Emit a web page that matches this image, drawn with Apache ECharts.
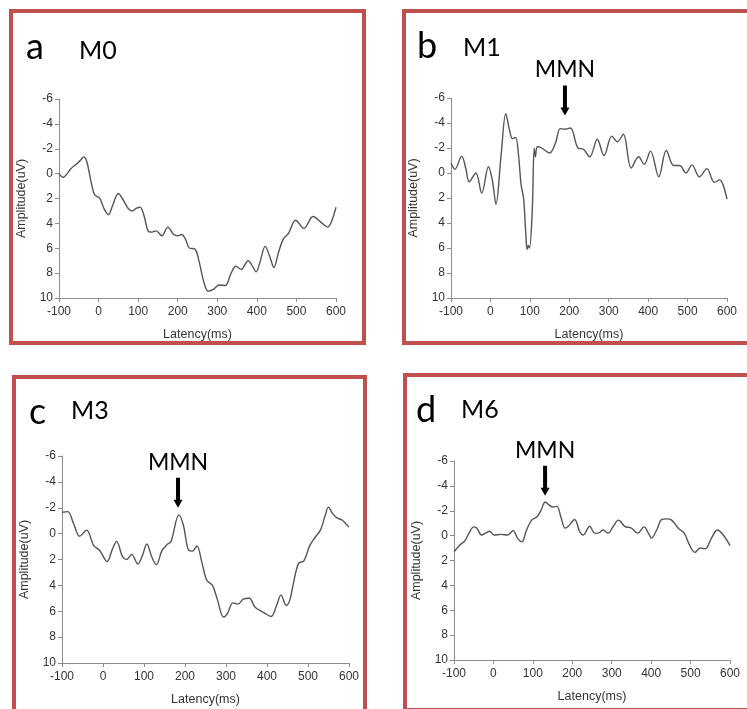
<!DOCTYPE html>
<html><head><meta charset="utf-8">
<script src="https://cdn.jsdelivr.net/npm/echarts@6/dist/echarts.min.js"></script>
<style>html,body{margin:0;padding:0;background:#fff}#c{width:747px;height:709px}</style>
</head><body><div id="c"></div>
<script>
// Panel titles
const panelLetters = ['a', 'b', 'c', 'd'];
const panelNames = ['M0', 'M1', 'M3', 'M6'];
// Axis ticks
const xTicks = { min: -100, max: 600, interval: 100 };
const yTicks = { min: -6, max: 10, interval: 2 };
// [latency ms, amplitude uV]
const M0 = [[-100,0.0],[-90,0.3],[-70,-0.4],[-55,-0.8],[-45,-1.1],[-38,-1.35],[-30,-1.0],[-20,0.5],[-10,1.7],[0,1.9],[5,2.1],[15,2.9],[25,3.3],[35,2.6],[50,1.6],[60,2.0],[75,2.8],[85,3.0],[95,2.8],[105,2.7],[115,3.4],[125,4.6],[135,4.7],[145,4.6],[160,5.0],[175,4.3],[190,4.9],[200,5.0],[210,4.9],[220,5.3],[230,6.0],[243,6.05],[255,7.2],[265,8.6],[277,9.45],[290,9.3],[305,8.95],[320,9.0],[335,8.0],[347,7.45],[360,7.7],[378,7.0],[390,7.5],[398,7.9],[408,7.1],[421,5.85],[433,6.7],[443,7.55],[455,6.3],[467,5.25],[480,4.8],[498,3.75],[519,4.4],[542,3.45],[565,4.0],[579,4.3],[588,3.9],[600,2.7]];
const M1 = [[-100,-0.8],[-90,-0.3],[-73,-1.35],[-62,-0.3],[-54,0.7],[-37,0.0],[-22,1.6],[-5,-0.5],[5,0.6],[14,2.5],[27,-1.4],[39,-4.75],[48,-3.5],[56,-2.75],[64,-2.85],[71,-1.5],[78,1.0],[84,2.0],[90,5.0],[93,6.1],[96,5.8],[99,6.0],[106,3.1],[111,-1.98],[114,-1.3],[119,-2.1],[130,-2.0],[150,-1.6],[165,-2.4],[177,-3.55],[190,-3.5],[203,-3.6],[222,-2.0],[236,-1.9],[252,-1.3],[271,-2.7],[288,-1.4],[308,-2.95],[322,-2.5],[337,-3.1],[357,-0.4],[376,-1.3],[390,-0.7],[406,-1.75],[427,0.3],[446,-1.8],[465,-0.6],[480,-0.6],[496,0.0],[511,-0.65],[530,0.3],[549,-0.35],[568,0.75],[581,0.55],[600,2.1]];
const M3 = [[-100,-1.65],[-86,-1.7],[-72,-0.8],[-57,0.2],[-40,-0.27],[-23,0.9],[-8,1.3],[10,2.15],[23,1.2],[33,0.6],[48,1.8],[58,2.0],[70,1.6],[85,2.35],[96,1.7],[107,0.8],[119,1.8],[130,2.4],[144,1.3],[156,0.85],[166,0.6],[185,-1.45],[196,-0.65],[209,1.3],[218,1.35],[229,0.95],[241,2.2],[253,3.6],[267,4.0],[279,5.1],[294,6.45],[303,6.2],[317,5.35],[329,5.45],[343,5.05],[357,5.0],[371,5.7],[392,6.1],[410,6.4],[423,5.6],[434,4.75],[447,5.55],[456,5.1],[464,3.9],[477,2.3],[490,2.1],[504,0.95],[517,0.3],[530,-0.25],[541,-1.3],[550,-2.05],[560,-1.55],[572,-1.2],[583,-1.05],[600,-0.5]];
const M6 = [[-100,1.3],[-85,0.75],[-72,0.4],[-62,-0.2],[-50,-0.7],[-42,-0.6],[-30,-0.05],[-20,-0.2],[-10,-0.35],[2,-0.05],[19,-0.1],[36,-0.05],[50,-0.4],[61,0.2],[72,0.5],[84,-0.45],[97,-1.25],[110,-1.5],[121,-2.05],[131,-2.7],[142,-2.45],[150,-2.3],[161,-2.35],[171,-1.5],[182,-0.6],[190,-0.75],[206,-1.3],[219,-0.3],[228,-0.05],[244,-0.75],[257,-0.2],[266,-0.2],[278,-0.45],[291,-0.2],[304,-0.75],[317,-1.25],[333,-0.75],[350,-0.6],[366,-0.2],[382,-0.7],[393,-0.2],[401,0.2],[414,-0.45],[427,-1.3],[439,-1.35],[452,-1.25],[469,-0.6],[484,-0.2],[495,0.6],[511,1.35],[524,1.0],[537,1.05],[553,0.2],[568,-0.45],[583,-0.05],[600,0.8]];
const seriesData = [M0, M1, M3, M6];
// MMN annotation targets [latency, amplitude at arrow tip] (null = none)
const mmnTargets = [null, [189, -4.6], [183, -2.0], [131, -3.2]];

const grids = [
  { left: 59, top: 99, width: 277, height: 199 },
  { left: 451, top: 98, width: 276, height: 200 },
  { left: 62, top: 456, width: 287, height: 207 },
  { left: 454, top: 461, width: 276, height: 199 }
];
const frames = [
  { x: 11, y: 11, w: 353, h: 332 },
  { x: 404, y: 11, w: 360, h: 332 },
  { x: 14, y: 377, w: 351, h: 350 },
  { x: 405, y: 375, w: 360, h: 335 }
];
const titlePos = [
  { lx: 26, ly: 47, nx: 79, ny: 51 },
  { lx: 417, ly: 46, nx: 463, ny: 48 },
  { lx: 29, ly: 412, nx: 71, ny: 411 },
  { lx: 416, ly: 410, nx: 461, ny: 410 }
];
const FRAME = '#c0504d';
const AX = '#8c8c8c';
const TXT = '#333333';
const arrowPath = 'path://M2.5,0 L6.5,0 L6.5,22 L9,22 L4.5,30 L0,22 L2.5,22 Z';

const graphic = [];
frames.forEach(f => graphic.push({ type: 'rect', shape: { x: f.x, y: f.y, width: f.w, height: f.h }, style: { fill: 'none', stroke: FRAME, lineWidth: 4 }, silent: true, z: 10 }));
titlePos.forEach((p, i) => {
  graphic.push({ type: 'text', x: p.lx, y: p.ly, style: { text: panelLetters[i], font: '36px Lato', fill: '#000', verticalAlign: 'middle' } });
  graphic.push({ type: 'text', x: p.nx, y: p.ny, style: { text: panelNames[i], font: '25px Lato', fill: '#000', verticalAlign: 'middle' } });
});

const option = {
  animation: false,
  backgroundColor: '#fff',
  grid: grids,
  xAxis: grids.map((g, i) => ({
    type: 'value', gridIndex: i, min: xTicks.min, max: xTicks.max, interval: xTicks.interval,
    name: 'Latency(ms)', nameLocation: 'middle', nameGap: 30,
    nameTextStyle: { color: TXT, fontSize: 12.5, fontFamily: 'Liberation Sans' },
    axisLine: { onZero: false, lineStyle: { color: AX, width: 1 } },
    axisTick: { show: true, length: 4, lineStyle: { color: AX } },
    axisLabel: { color: TXT, fontSize: 12, fontFamily: 'Liberation Sans', margin: 8, showMinLabel: true, showMaxLabel: true },
    splitLine: { show: false }
  })),
  yAxis: grids.map((g, i) => ({
    type: 'value', gridIndex: i, inverse: true, min: yTicks.min, max: yTicks.max, interval: yTicks.interval,
    name: 'Amplitude(uV)', nameLocation: 'middle', nameGap: 31,
    nameTextStyle: { color: TXT, fontSize: 12.5, fontFamily: 'Liberation Sans' },
    axisLine: { show: true, onZero: false, lineStyle: { color: AX, width: 1 } },
    axisTick: { show: true, length: 4, lineStyle: { color: AX } },
    axisLabel: { color: TXT, fontSize: 12, fontFamily: 'Liberation Sans', margin: 6, showMinLabel: true, showMaxLabel: true },
    splitLine: { show: false }
  })),
  series: seriesData.map((d, i) => {
    const s = {
      type: 'line', xAxisIndex: i, yAxisIndex: i, data: d, smooth: 0.35, showSymbol: false,
      lineStyle: { color: '#555', width: 1.4 }, silent: true
    };
    if (mmnTargets[i]) {
      s.markPoint = {
        silent: true,
        data: [{
          coord: mmnTargets[i], symbol: arrowPath, symbolSize: [9, 30], symbolOffset: [0, '-50%'],
          itemStyle: { color: '#000' },
          label: { show: true, position: 'top', distance: 4, formatter: 'MMN', color: '#000', fontSize: 23, fontFamily: 'Lato' }
        }]
      };
    }
    return s;
  }),
  graphic: graphic
};
const chart = echarts.init(document.getElementById('c'), null, { renderer: 'canvas' });
chart.setOption(option);
</script></body></html>
